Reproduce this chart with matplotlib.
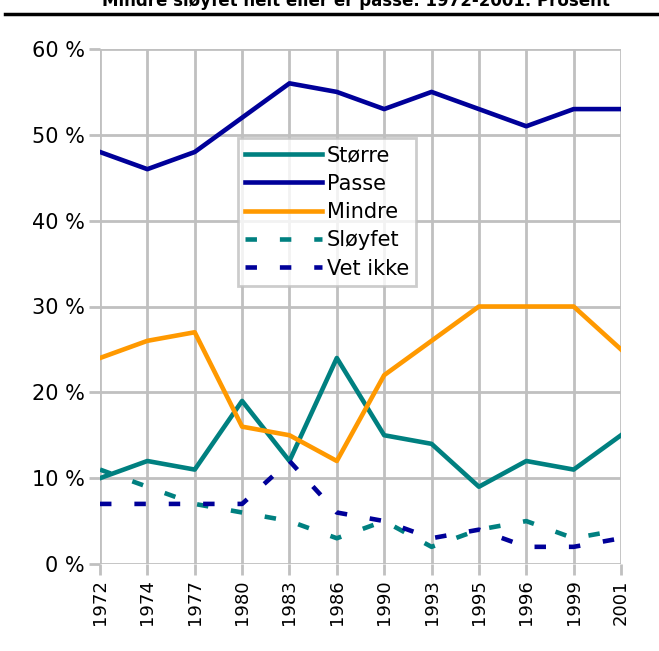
import matplotlib.pyplot as plt

years = ["1972", "1974", "1977", "1980", "1983", "1986", "1990",
         "1993", "1995", "1996", "1999", "2001"]

storre = [10, 12, 11, 19, 12, 24, 15, 14, 9, 12, 11, 15]
passe = [48, 46, 48, 52, 56, 55, 53, 55, 53, 51, 53, 53]
mindre = [24, 26, 27, 16, 15, 12, 22, 26, 30, 30, 30, 25]
sloyfet = [11, 9, 7, 6, 5, 3, 5, 2, 4, 5, 3, 4]
vet_ikke = [7, 7, 7, 7, 12, 6, 5, 3, 4, 2, 2, 3]

teal = "#008080"
navy = "#000099"
orange = "#ff9900"
grey = "#c0c0c0"

plt.rcParams["font.family"] = ["DejaVu Sans"]

fig = plt.figure(figsize=(6.59, 6.51), dpi=100)
ax = fig.add_axes([100 / 659, 1 - 564 / 651, 521 / 659, 515 / 651])

x = range(len(years))
ax.plot(x, storre, color=teal, lw=3.3, label="Større")
ax.plot(x, passe, color=navy, lw=3.3, label="Passe")
ax.plot(x, mindre, color=orange, lw=3.3, label="Mindre")
ax.plot(x, sloyfet, color=teal, lw=3.3, ls=(0, (2.5, 5)), label="Sløyfet")
ax.plot(x, vet_ikke, color=navy, lw=3.3, ls=(0, (2.5, 5)), label="Vet ikke")

ax.set_xlim(0, len(years) - 1)
ax.set_ylim(0, 60)
ax.set_xticks(list(x))
ax.set_xticklabels(years, rotation=90, fontsize=13)
ax.set_yticks(range(0, 61, 10))
ax.set_yticklabels([f"{v} %" for v in range(0, 61, 10)], fontsize=15)
ax.grid(True, color=grey, lw=2)
ax.set_axisbelow(True)
for s in ax.spines.values():
    s.set_visible(False)
ax.tick_params(axis="both", color=grey, width=2, length=8, pad=3)

leg = ax.legend(loc="upper left", bbox_to_anchor=(138 / 521, 1 - 89 / 515),
                fontsize=15, frameon=True, fancybox=False, handlelength=3.7,
                borderpad=0.35, labelspacing=0.4, handletextpad=0.2,
                borderaxespad=0)
leg.get_frame().set_edgecolor(grey)
leg.get_frame().set_linewidth(2)

fig.text(0.54, 0.998, "Mindre sløyfet helt eller er passe. 1972-2001. Prosent",
         ha="center", va="center", fontsize=12, fontweight="bold")
fig.add_artist(plt.Line2D([5 / 659, 1], [1 - 14 / 651, 1 - 14 / 651],
                          color="black", lw=2.5))

fig.savefig("out.png", dpi=100)
